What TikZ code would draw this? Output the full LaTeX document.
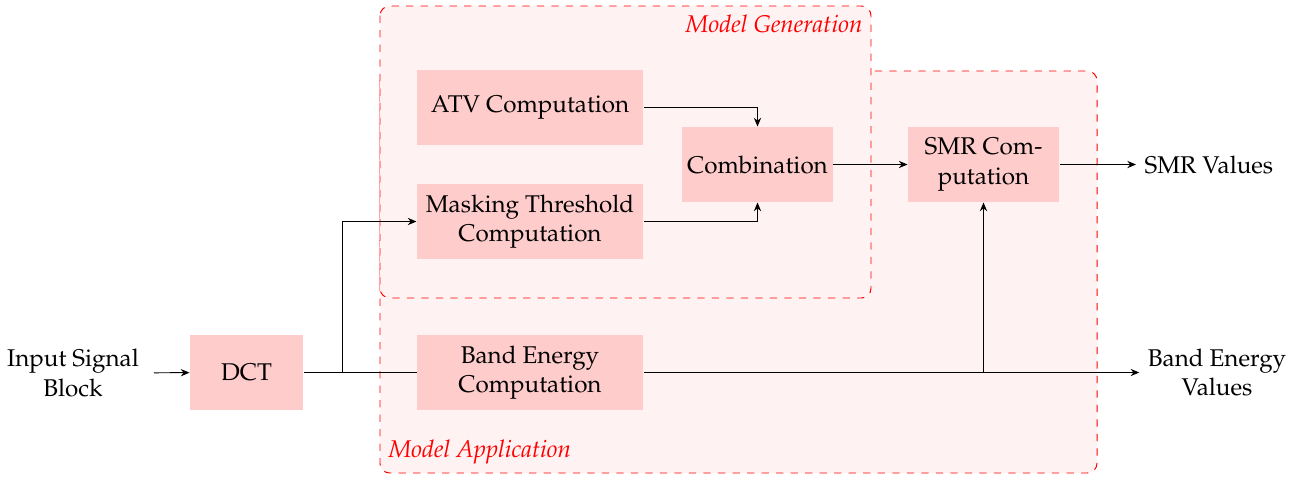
\documentclass[tikz,border=0pt]{standalone}
\usepackage[T1]{fontenc}
\usepackage{mathpazo}
\usetikzlibrary{calc,arrows.meta}

\tikzset{
  block/.style={fill=red!20, minimum height=31pt, align=center, inner sep=2pt},
  wideblock/.style={block, minimum width=93.4pt},
  lbl/.style={align=center},
  region/.style={draw=red, dashed, fill=red!5, rounded corners=4pt},
  regionlabel/.style={text=red, font=\itshape},
  flow/.style={-{Stealth[length=3.6pt, width=3pt]}}
}

\begin{document}
\begin{tikzpicture}[x=0.4132pt, y=-0.4132pt]
  \useasboundingbox (0,0) rectangle (1299,477);

  % processing regions
  \draw[region] (380,71) rectangle (1097,473);
  \node[regionlabel, anchor=south west] (applab) at (380,473) {Model Application};
  \draw[region] (380,6) rectangle (871,298);
  \node[regionlabel, anchor=north east] (genlab) at (871,6) {Model Generation};

  % blocks
  \node[lbl, inner xsep=6pt] (in) at (73,373) {Input Signal\\Block};
  \node[block, minimum width=46.7pt] (dct) at (246.5,372.5) {DCT};
  \node[wideblock] (atv) at (530,107.5) {ATV Computation};
  \node[wideblock] (mask) at (530,221.5) {Masking Threshold\\Computation};
  \node[wideblock] (band) at (530,372.5) {Band Energy\\Computation};
  \node[block, minimum width=61.6pt] (comb) at (757.5,164.5) {Combination};
  \node[block, minimum width=62.4pt] (smr) at (983.5,164.5) {SMR Com-\\putation};
  \node[lbl, anchor=west] (smrv) at (1136,164.5) {SMR Values};
  \node[lbl] (bandv) at (1217,372.5) {Band Energy\\Values};

  % connections
  \coordinate (split) at (342,372.5);
  \draw[flow] (in) -- (dct);
  \draw (dct) -- (band);
  \draw[flow] (split) |- (mask.west);
  \draw[flow] (atv.east) -| (comb.north);
  \draw[flow] (mask.east) -| (comb.south);
  \draw[flow] (comb) -- (smr);
  \draw[flow] (smr) -- (smrv);
  \draw[flow] (band) -- (bandv);
  \coordinate (tap) at (smr.south |- band.east);
  \draw[flow] (tap) -- (smr.south);
\end{tikzpicture}
\end{document}
